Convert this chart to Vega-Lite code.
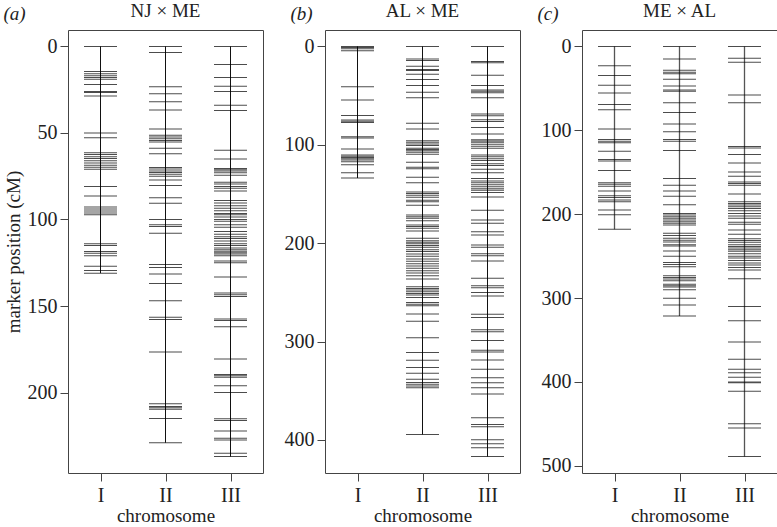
{
"$schema":"https://vega.github.io/schema/vega-lite/v6.json",
"background":"white",
"padding":{"left":2,"top":1,"right":0,"bottom":0},
"bounds":"flush",
"spacing":62,
"config":{
"font":"Liberation Serif",
"view":{"stroke":"#444","strokeWidth":1},
"axis":{"labelFont":"Liberation Serif","titleFont":"Liberation Serif","labelFontSize":20,"titleFontSize":19,"titleFontWeight":"normal","labelColor":"#222","titleColor":"#222","tickColor":"#444","domain":false,"grid":false,"tickSize":8},
"title":{"font":"Liberation Serif","fontSize":19,"fontWeight":"normal","color":"#222"}
},
"datasets":{
"a":[
{"c":"I","v":0},{"c":"I","v":14.5},{"c":"I","v":15.8},{"c":"I","v":17},{"c":"I","v":18},{"c":"I","v":19},{"c":"I","v":22},{"c":"I","v":26},{"c":"I","v":26.7},{"c":"I","v":28.7},{"c":"I","v":50},{"c":"I","v":52.8},{"c":"I","v":61.5},{"c":"I","v":62.5},{"c":"I","v":63.7},{"c":"I","v":64.8},{"c":"I","v":66},{"c":"I","v":67.4},{"c":"I","v":68.7},{"c":"I","v":69.8},{"c":"I","v":71},{"c":"I","v":81},{"c":"I","v":86.5},{"c":"I","v":92.8},{"c":"I","v":94},{"c":"I","v":95.1},{"c":"I","v":96.2},{"c":"I","v":97.3},{"c":"I","v":114},{"c":"I","v":115},{"c":"I","v":118.5},{"c":"I","v":119.5},{"c":"I","v":121},{"c":"I","v":127},{"c":"I","v":129.5},{"c":"I","v":131},
{"c":"II","v":0},{"c":"II","v":3.5},{"c":"II","v":23.3},{"c":"II","v":27.3},{"c":"II","v":32},{"c":"II","v":36.8},{"c":"II","v":47.7},{"c":"II","v":51.4},{"c":"II","v":52.4},{"c":"II","v":53.3},{"c":"II","v":54.3},{"c":"II","v":55.2},{"c":"II","v":58.8},{"c":"II","v":62},{"c":"II","v":70},{"c":"II","v":70.9},{"c":"II","v":72},{"c":"II","v":72.8},{"c":"II","v":73.8},{"c":"II","v":75},{"c":"II","v":77.2},{"c":"II","v":80.3},{"c":"II","v":87.5},{"c":"II","v":90.6},{"c":"II","v":100},{"c":"II","v":103},{"c":"II","v":104},{"c":"II","v":108},{"c":"II","v":126},{"c":"II","v":127.8},{"c":"II","v":131.5},{"c":"II","v":137},{"c":"II","v":147},{"c":"II","v":156.5},{"c":"II","v":157.8},{"c":"II","v":176.5},{"c":"II","v":206.5},{"c":"II","v":208},{"c":"II","v":208.8},{"c":"II","v":209.6},{"c":"II","v":215},{"c":"II","v":229},
{"c":"III","v":0},{"c":"III","v":10.5},{"c":"III","v":18},{"c":"III","v":23},{"c":"III","v":26},{"c":"III","v":34},{"c":"III","v":37},{"c":"III","v":60},{"c":"III","v":65},{"c":"III","v":70.5},{"c":"III","v":71.3},{"c":"III","v":72},{"c":"III","v":73},{"c":"III","v":74.5},{"c":"III","v":78.5},{"c":"III","v":79.5},{"c":"III","v":81},{"c":"III","v":82},{"c":"III","v":83.5},{"c":"III","v":89},{"c":"III","v":90.5},{"c":"III","v":92},{"c":"III","v":93.5},{"c":"III","v":95},{"c":"III","v":96.5},{"c":"III","v":97.3},{"c":"III","v":98.5},{"c":"III","v":100},{"c":"III","v":101},{"c":"III","v":103},{"c":"III","v":104.5},{"c":"III","v":107},{"c":"III","v":108.5},{"c":"III","v":110},{"c":"III","v":111},{"c":"III","v":112.5},{"c":"III","v":114},{"c":"III","v":115},{"c":"III","v":116.5},{"c":"III","v":117.5},{"c":"III","v":118.3},{"c":"III","v":119.2},{"c":"III","v":120},{"c":"III","v":121},{"c":"III","v":124},{"c":"III","v":125},{"c":"III","v":133.2},{"c":"III","v":142.5},{"c":"III","v":143.5},{"c":"III","v":144.5},{"c":"III","v":157.5},{"c":"III","v":158.3},{"c":"III","v":162},{"c":"III","v":180.6},{"c":"III","v":189.5},{"c":"III","v":190.3},{"c":"III","v":191.2},{"c":"III","v":196},{"c":"III","v":200},{"c":"III","v":215.2},{"c":"III","v":216.2},{"c":"III","v":222.2},{"c":"III","v":226.4},{"c":"III","v":227.4},{"c":"III","v":235},{"c":"III","v":237}
],
"b":[
{"c":"I","v":0},{"c":"I","v":1},{"c":"I","v":2.5},{"c":"I","v":4.5},{"c":"I","v":41},{"c":"I","v":54.5},{"c":"I","v":70.3},{"c":"I","v":74.7},{"c":"I","v":76},{"c":"I","v":77.3},{"c":"I","v":91.8},{"c":"I","v":93.2},{"c":"I","v":104.2},{"c":"I","v":110.3},{"c":"I","v":111.7},{"c":"I","v":113},{"c":"I","v":114.3},{"c":"I","v":115.6},{"c":"I","v":117.3},{"c":"I","v":120.4},{"c":"I","v":128.4},{"c":"I","v":133.8},
{"c":"II","v":0},{"c":"II","v":12.7},{"c":"II","v":14.4},{"c":"II","v":20.1},{"c":"II","v":23.5},{"c":"II","v":24.5},{"c":"II","v":28.2},{"c":"II","v":33.6},{"c":"II","v":39.7},{"c":"II","v":46.7},{"c":"II","v":52.1},{"c":"II","v":78},{"c":"II","v":84},{"c":"II","v":95.8},{"c":"II","v":97.5},{"c":"II","v":99.2},{"c":"II","v":100.8},{"c":"II","v":103.6},{"c":"II","v":104.8},{"c":"II","v":106.2},{"c":"II","v":107.6},{"c":"II","v":109.6},{"c":"II","v":117.7},{"c":"II","v":122.8},{"c":"II","v":124.4},{"c":"II","v":132.9},{"c":"II","v":138.5},{"c":"II","v":147.9},{"c":"II","v":149.6},{"c":"II","v":151.3},{"c":"II","v":153.4},{"c":"II","v":156.3},{"c":"II","v":158},{"c":"II","v":161.4},{"c":"II","v":171.5},{"c":"II","v":173.2},{"c":"II","v":174.8},{"c":"II","v":177.2},{"c":"II","v":181.6},{"c":"II","v":183.2},{"c":"II","v":184.9},{"c":"II","v":187.6},{"c":"II","v":195},{"c":"II","v":197.5},{"c":"II","v":199},{"c":"II","v":200.5},{"c":"II","v":202.5},{"c":"II","v":204.2},{"c":"II","v":206.6},{"c":"II","v":208.6},{"c":"II","v":211},{"c":"II","v":213.4},{"c":"II","v":216.1},{"c":"II","v":218.5},{"c":"II","v":220.9},{"c":"II","v":223.2},{"c":"II","v":225.6},{"c":"II","v":228},{"c":"II","v":230.4},{"c":"II","v":233.1},{"c":"II","v":236.5},{"c":"II","v":244.3},{"c":"II","v":246},{"c":"II","v":247.7},{"c":"II","v":249.4},{"c":"II","v":251.1},{"c":"II","v":252.8},{"c":"II","v":255.2},{"c":"II","v":260.3},{"c":"II","v":262},{"c":"II","v":263.7},{"c":"II","v":272.1},{"c":"II","v":279.3},{"c":"II","v":296.3},{"c":"II","v":311.3},{"c":"II","v":319},{"c":"II","v":326.5},{"c":"II","v":332.3},{"c":"II","v":338.4},{"c":"II","v":341.8},{"c":"II","v":343.5},{"c":"II","v":345.2},{"c":"II","v":346.9},{"c":"II","v":394.5},
{"c":"III","v":0},{"c":"III","v":15.4},{"c":"III","v":16.7},{"c":"III","v":29.2},{"c":"III","v":39.7},{"c":"III","v":44.4},{"c":"III","v":45.7},{"c":"III","v":47},{"c":"III","v":52.1},{"c":"III","v":68.6},{"c":"III","v":70.6},{"c":"III","v":74.6},{"c":"III","v":76.3},{"c":"III","v":82.4},{"c":"III","v":89.1},{"c":"III","v":94.8},{"c":"III","v":96.1},{"c":"III","v":97.5},{"c":"III","v":99.5},{"c":"III","v":101.6},{"c":"III","v":103.6},{"c":"III","v":110.3},{"c":"III","v":112.3},{"c":"III","v":114.3},{"c":"III","v":116},{"c":"III","v":119.4},{"c":"III","v":121.1},{"c":"III","v":125},{"c":"III","v":128.4},{"c":"III","v":134.4},{"c":"III","v":136.8},{"c":"III","v":138.5},{"c":"III","v":140.6},{"c":"III","v":142.6},{"c":"III","v":144.7},{"c":"III","v":146.3},{"c":"III","v":148.6},{"c":"III","v":153.1},{"c":"III","v":166.5},{"c":"III","v":176.6},{"c":"III","v":179.9},{"c":"III","v":188.3},{"c":"III","v":191.7},{"c":"III","v":201.8},{"c":"III","v":204.2},{"c":"III","v":210.9},{"c":"III","v":212.7},{"c":"III","v":218.1},{"c":"III","v":235.8},{"c":"III","v":243.3},{"c":"III","v":245.3},{"c":"III","v":250.1},{"c":"III","v":253.8},{"c":"III","v":272.2},{"c":"III","v":275.6},{"c":"III","v":288.1},{"c":"III","v":290.2},{"c":"III","v":299},{"c":"III","v":308.9},{"c":"III","v":310.6},{"c":"III","v":318.7},{"c":"III","v":328.2},{"c":"III","v":336.8},{"c":"III","v":341.9},{"c":"III","v":347},{"c":"III","v":353.4},{"c":"III","v":377.6},{"c":"III","v":384.4},{"c":"III","v":386.7},{"c":"III","v":400},{"c":"III","v":404},{"c":"III","v":408},{"c":"III","v":417}
],
"c":[
{"c":"I","v":0},{"c":"I","v":23.2},{"c":"I","v":34.7},{"c":"I","v":46.4},{"c":"I","v":55.4},{"c":"I","v":69.3},{"c":"I","v":75.6},{"c":"I","v":98.5},{"c":"I","v":111.1},{"c":"I","v":113.1},{"c":"I","v":115},{"c":"I","v":125},{"c":"I","v":134.7},{"c":"I","v":136.7},{"c":"I","v":147.8},{"c":"I","v":162.4},{"c":"I","v":164.3},{"c":"I","v":166.7},{"c":"I","v":172.3},{"c":"I","v":178.1},{"c":"I","v":180.1},{"c":"I","v":183.2},{"c":"I","v":185.2},{"c":"I","v":195},{"c":"I","v":200.6},{"c":"I","v":218},
{"c":"II","v":0},{"c":"II","v":14.9},{"c":"II","v":28.3},{"c":"II","v":30.7},{"c":"II","v":32.7},{"c":"II","v":39.3},{"c":"II","v":47.2},{"c":"II","v":52},{"c":"II","v":53.6},{"c":"II","v":67.3},{"c":"II","v":78.8},{"c":"II","v":92.6},{"c":"II","v":101.7},{"c":"II","v":111.1},{"c":"II","v":113.1},{"c":"II","v":124.1},{"c":"II","v":157.6},{"c":"II","v":165.5},{"c":"II","v":172.3},{"c":"II","v":178.6},{"c":"II","v":188.8},{"c":"II","v":199.1},{"c":"II","v":201},{"c":"II","v":203},{"c":"II","v":204.9},{"c":"II","v":206.9},{"c":"II","v":208.9},{"c":"II","v":210.9},{"c":"II","v":212.9},{"c":"II","v":222.8},{"c":"II","v":225.5},{"c":"II","v":228.6},{"c":"II","v":231},{"c":"II","v":233.3},{"c":"II","v":236.4},{"c":"II","v":237.8},{"c":"II","v":243.9},{"c":"II","v":250.3},{"c":"II","v":257.5},{"c":"II","v":259.9},{"c":"II","v":262.7},{"c":"II","v":273.4},{"c":"II","v":275.4},{"c":"II","v":277.4},{"c":"II","v":279.4},{"c":"II","v":283.4},{"c":"II","v":285.4},{"c":"II","v":286.9},{"c":"II","v":290.1},{"c":"II","v":300.1},{"c":"II","v":308.4},{"c":"II","v":321.5},
{"c":"III","v":0},{"c":"III","v":14.2},{"c":"III","v":18.8},{"c":"III","v":57.9},{"c":"III","v":67.3},{"c":"III","v":119.4},{"c":"III","v":121},{"c":"III","v":128.9},{"c":"III","v":139.1},{"c":"III","v":149.8},{"c":"III","v":154.8},{"c":"III","v":161.6},{"c":"III","v":163.5},{"c":"III","v":165.5},{"c":"III","v":176.1},{"c":"III","v":185.2},{"c":"III","v":187.2},{"c":"III","v":189.2},{"c":"III","v":191.2},{"c":"III","v":193.1},{"c":"III","v":195.9},{"c":"III","v":199.1},{"c":"III","v":202.3},{"c":"III","v":204.9},{"c":"III","v":209.7},{"c":"III","v":212.1},{"c":"III","v":218.8},{"c":"III","v":223.8},{"c":"III","v":229.4},{"c":"III","v":231.4},{"c":"III","v":233.4},{"c":"III","v":236.5},{"c":"III","v":238.4},{"c":"III","v":240.3},{"c":"III","v":242.3},{"c":"III","v":244.3},{"c":"III","v":247.1},{"c":"III","v":250.3},{"c":"III","v":252.3},{"c":"III","v":255.1},{"c":"III","v":258.3},{"c":"III","v":260.7},{"c":"III","v":263.5},{"c":"III","v":266.6},{"c":"III","v":277},{"c":"III","v":310},{"c":"III","v":327.2},{"c":"III","v":352.3},{"c":"III","v":373},{"c":"III","v":384.9},{"c":"III","v":388.9},{"c":"III","v":394.5},{"c":"III","v":400.1},{"c":"III","v":400.9},{"c":"III","v":411.2},{"c":"III","v":449.9},{"c":"III","v":455},{"c":"III","v":489}
]
},
"hconcat":[
{
"width":195,"height":443,
"data":{"name":"a"},
"title":{"text":"NJ × ME","anchor":"middle","frame":"group","offset":-31,"baseline":"alphabetic"},
"layer":[
{"transform":[{"aggregate":[{"op":"min","field":"v","as":"lo"},{"op":"max","field":"v","as":"hi"}],"groupby":["c"]}],
"mark":{"type":"rule","color":"#111","strokeWidth":1},
"encoding":{
"x":{"field":"c","type":"ordinal","scale":{"type":"point","padding":0.5,"domain":["I","II","III"]},"axis":{"orient":"top","title":"(a)","titleX":-65,"titleY":-10.5,"titleAlign":"left","titleBaseline":"alphabetic","titleFontStyle":"italic","labels":false,"ticks":false,"domain":false}},
"y":{"field":"lo","type":"quantitative","scale":{"domain":[-9.48,246.48],"reverse":true,"nice":false,"zero":false},"axis":{"values":[0,50,100,150,200],"title":"marker position (cM)","labelPadding":3,"titlePadding":4}},
"y2":{"field":"hi"}}},
{"mark":{"type":"tick","color":"#000","size":33,"thickness":1},
"encoding":{
"x":{"field":"c","type":"ordinal","scale":{"type":"point","padding":0.5,"domain":["I","II","III"]},"axis":{"orient":"bottom","title":"chromosome","labelAngle":0,"labelPadding":4,"titlePadding":1}},
"y":{"field":"v","type":"quantitative","axis":{"values":[0,50,100,150,200],"title":"marker position (cM)","labelPadding":3,"titlePadding":4}}}}
],
"resolve":{"axis":{"x":"independent"}}
},
{
"width":195,"height":443,
"data":{"name":"b"},
"title":{"text":"AL × ME","anchor":"middle","frame":"group","offset":-31,"baseline":"alphabetic"},
"layer":[
{"transform":[{"aggregate":[{"op":"min","field":"v","as":"lo"},{"op":"max","field":"v","as":"hi"}],"groupby":["c"]}],
"mark":{"type":"rule","color":"#111","strokeWidth":1},
"encoding":{
"x":{"field":"c","type":"ordinal","scale":{"type":"point","padding":0.5,"domain":["I","II","III"]},"axis":{"orient":"top","title":"(b)","titleX":-35,"titleY":-10.5,"titleAlign":"left","titleBaseline":"alphabetic","titleFontStyle":"italic","labels":false,"ticks":false,"domain":false}},
"y":{"field":"lo","type":"quantitative","scale":{"domain":[-16.68,433.68],"reverse":true,"nice":false,"zero":false},"axis":{"values":[0,100,200,300,400],"title":null,"labelPadding":3}},
"y2":{"field":"hi"}}},
{"mark":{"type":"tick","color":"#000","size":33,"thickness":1},
"encoding":{
"x":{"field":"c","type":"ordinal","scale":{"type":"point","padding":0.5,"domain":["I","II","III"]},"axis":{"orient":"bottom","title":"chromosome","labelAngle":0,"labelPadding":4,"titlePadding":1}},
"y":{"field":"v","type":"quantitative","axis":{"values":[0,100,200,300,400],"title":null,"labelPadding":3}}}}
],
"resolve":{"axis":{"x":"independent"}}
},
{
"width":195,"height":443,
"data":{"name":"c"},
"title":{"text":"ME × AL","anchor":"middle","frame":"group","offset":-31,"baseline":"alphabetic"},
"layer":[
{"transform":[{"aggregate":[{"op":"min","field":"v","as":"lo"},{"op":"max","field":"v","as":"hi"}],"groupby":["c"]}],
"mark":{"type":"rule","color":"#555","strokeWidth":1.3},
"encoding":{
"x":{"field":"c","type":"ordinal","scale":{"type":"point","padding":0.5,"domain":["I","II","III"]},"axis":{"orient":"top","title":"(c)","titleX":-45,"titleY":-10.5,"titleAlign":"left","titleBaseline":"alphabetic","titleFontStyle":"italic","labels":false,"ticks":false,"domain":false}},
"y":{"field":"lo","type":"quantitative","scale":{"domain":[-19.56,508.56],"reverse":true,"nice":false,"zero":false},"axis":{"values":[0,100,200,300,400,500],"title":null,"labelPadding":3}},
"y2":{"field":"hi"}}},
{"mark":{"type":"tick","color":"#000","size":33,"thickness":1},
"encoding":{
"x":{"field":"c","type":"ordinal","scale":{"type":"point","padding":0.5,"domain":["I","II","III"]},"axis":{"orient":"bottom","title":"chromosome","labelAngle":0,"labelPadding":4,"titlePadding":1}},
"y":{"field":"v","type":"quantitative","axis":{"values":[0,100,200,300,400,500],"title":null,"labelPadding":3}}}}
],
"resolve":{"axis":{"x":"independent"}}
}
]
}
